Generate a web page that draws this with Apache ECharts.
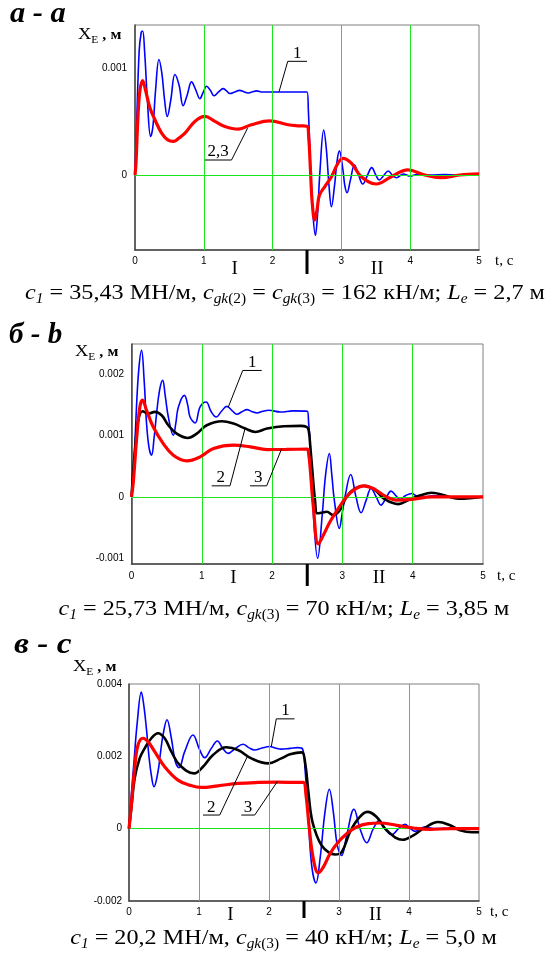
<!DOCTYPE html>
<html><head><meta charset="utf-8">
<script src="https://cdn.jsdelivr.net/npm/echarts@6/dist/echarts.min.js"></script>
<style>html,body{margin:0;padding:0;background:#fff}#c{width:547px;height:955px}</style>
</head><body><div id="c"></div>
<script>
// ---- data (t in s, displacement in 10^-3 m) ----
const tTicks = [0, 1, 2, 3, 4, 5];
const gridX = [1, 2, 3, 4];
const phaseBoundary = 2.5;

const gridA_y = [-0.0005, 0, 0.0005, 0.001];
const gridB_y = [-0.001, 0, 0.001, 0.002];
const gridC_y = [0, 0.002, 0.004];
const yLabA = [0, 0.001];
const yLabB = [-0.001, 0, 0.001, 0.002];
const yLabC = [-0.002, 0, 0.002, 0.004];

// panel a: curve 1 (blue), curves 2,3 (red)
const A1 = [[0,0],[0.02,0.4],[0.06,1.15],[0.09,1.33],[0.111,1.344],[0.14,1.15],[0.18,0.7],[0.227,0.36],[0.26,0.45],[0.3,0.8],[0.348,1.078],[0.39,0.95],[0.43,0.7],[0.469,0.547],[0.52,0.7],[0.58,0.938],[0.64,0.84],[0.70,0.647],[0.76,0.75],[0.822,0.869],[0.88,0.8],[0.943,0.713],[0.99,0.77],[1.04,0.828],[1.095,0.79],[1.15,0.74],[1.215,0.775],[1.28,0.806],[1.33,0.785],[1.38,0.76],[1.45,0.775],[1.52,0.79],[1.58,0.778],[1.64,0.765],[1.7,0.775],[1.77,0.785],[1.85,0.775],[2.0,0.775],[2.2,0.775],[2.4,0.775],[2.5,0.775],[2.52,0.6],[2.55,0.1],[2.585,-0.35],[2.622,-0.563],[2.65,-0.4],[2.69,0.05],[2.743,0.42],[2.78,0.25],[2.82,-0.1],[2.855,-0.297],[2.9,-0.1],[2.935,0.12],[2.97,0.225],[3.02,0.06],[3.05,-0.1],[3.082,-0.166],[3.13,-0.05],[3.19,0.094],[3.25,0],[3.31,-0.084],[3.38,0],[3.44,0.069],[3.5,0],[3.55,-0.047],[3.62,0],[3.68,0.038],[3.75,-0.01],[3.8,-0.025],[3.9,0.01],[4.0,-0.01],[4.1,0.005],[4.3,0],[4.5,0.005],[4.7,0],[5,0]];
const A23 = [[0,0],[0.015,0.12],[0.04,0.5],[0.07,0.78],[0.111,0.881],[0.15,0.8],[0.218,0.625],[0.29,0.516],[0.387,0.39],[0.47,0.33],[0.556,0.313],[0.64,0.345],[0.726,0.39],[0.87,0.5],[1.016,0.547],[1.16,0.5],[1.306,0.453],[1.5,0.428],[1.69,0.469],[1.96,0.506],[2.225,0.469],[2.39,0.459],[2.5,0.455],[2.525,0.35],[2.55,0.05],[2.575,-0.25],[2.612,-0.42],[2.645,-0.33],[2.68,-0.19],[2.757,-0.11],[2.855,-0.016],[2.95,0.11],[3.02,0.156],[3.145,0.11],[3.29,-0.016],[3.507,-0.084],[3.725,-0.016],[3.967,0.047],[4.21,0],[4.45,-0.025],[4.72,0],[5,0.01]];

// panel b: 1 blue, 2 black, 3 red
const B1 = [[0,0],[0.024,0.218],[0.071,1.47],[0.105,2.1],[0.143,2.395],[0.18,1.9],[0.214,1.2],[0.25,0.8],[0.286,0.68],[0.32,0.95],[0.357,1.36],[0.4,1.75],[0.443,1.905],[0.48,1.65],[0.524,1.306],[0.595,1.007],[0.63,1.2],[0.667,1.47],[0.752,1.66],[0.8,1.5],[0.833,1.306],[0.905,1.208],[0.976,1.47],[1.062,1.55],[1.13,1.4],[1.205,1.306],[1.28,1.4],[1.357,1.48],[1.43,1.41],[1.5,1.35],[1.57,1.39],[1.643,1.426],[1.71,1.395],[1.786,1.372],[1.87,1.4],[1.952,1.415],[2.119,1.388],[2.3,1.405],[2.5,1.4],[2.52,1.2],[2.54,0.925],[2.587,-0.27],[2.648,-1.007],[2.715,-0.27],[2.76,0.35],[2.814,0.708],[2.85,0.35],[2.885,-0.054],[2.956,-0.517],[3.0,-0.25],[3.037,0],[3.118,0.365],[3.193,0],[3.265,-0.261],[3.34,-0.05],[3.407,0.136],[3.48,0],[3.55,-0.136],[3.62,-0.02],[3.692,0.093],[3.76,0.02],[3.82,-0.044],[3.9,0.02],[3.986,0.054],[4.08,0],[4.175,0],[4.3,0.02],[4.5,0],[4.7,0],[5,0]];
const B2 = [[0,0],[0.048,0.76],[0.095,1.25],[0.157,1.4],[0.238,1.36],[0.333,1.39],[0.429,1.334],[0.524,1.17],[0.643,1.034],[0.8,0.963],[0.929,1.034],[1.071,1.17],[1.286,1.236],[1.452,1.198],[1.619,1.116],[1.762,1.06],[1.929,1.116],[2.167,1.154],[2.405,1.16],[2.49,1.143],[2.52,1.09],[2.545,0.8],[2.568,0.49],[2.61,-0.054],[2.643,-0.27],[2.705,-0.26],[2.777,-0.245],[2.87,-0.3],[2.966,-0.218],[3.06,0],[3.18,0.136],[3.322,0.18],[3.464,0.109],[3.606,-0.044],[3.796,-0.12],[3.939,-0.054],[4.1,0.02],[4.27,0.065],[4.46,0.02],[4.65,-0.033],[4.85,-0.02],[5,0]];
const B3 = [[0,0],[0.024,0.218],[0.071,0.925],[0.119,1.47],[0.157,1.58],[0.214,1.415],[0.31,1.143],[0.452,0.871],[0.595,0.68],[0.786,0.588],[0.976,0.653],[1.167,0.789],[1.452,0.844],[1.69,0.817],[1.929,0.773],[2.2,0.775],[2.5,0.78],[2.52,0.7],[2.54,0.49],[2.587,-0.163],[2.658,-0.773],[2.73,-0.626],[2.824,-0.408],[2.943,-0.19],[3.06,0],[3.18,0.125],[3.298,0.18],[3.44,0.136],[3.583,0.027],[3.773,-0.054],[3.986,-0.044],[4.27,0],[4.6,0],[5,0]];

// panel c: 1 blue, 2 black, 3 red
const C1 = [[0,0],[0.033,0.926],[0.071,1.85],[0.119,2.96],[0.176,3.78],[0.212,3.4],[0.248,2.78],[0.285,2.0],[0.319,1.48],[0.357,1.157],[0.414,1.574],[0.45,2.1],[0.486,2.59],[0.543,3.01],[0.605,2.5],[0.662,1.85],[0.714,1.685],[0.795,2.13],[0.914,2.59],[1.01,2.176],[1.081,1.963],[1.176,2.22],[1.262,2.426],[1.34,2.22],[1.414,2.083],[1.52,2.22],[1.629,2.333],[1.71,2.24],[1.795,2.176],[1.9,2.23],[2.01,2.27],[2.09,2.23],[2.176,2.2],[2.3,2.22],[2.414,2.24],[2.48,2.2],[2.514,1.667],[2.562,0.278],[2.61,-1.02],[2.671,-1.5],[2.729,-0.833],[2.8,0.463],[2.862,1.09],[2.919,0.463],[2.976,-0.463],[3.038,-0.74],[3.11,-0.185],[3.214,0.537],[3.3,0],[3.395,-0.389],[3.49,0],[3.576,0.23],[3.657,0],[3.752,-0.167],[3.85,0],[3.943,0.12],[4.01,0.02],[4.086,-0.074],[4.16,0],[4.229,0.046],[4.35,0],[4.5,0.01],[4.7,0],[5,0]];
const C2 = [[0,0],[0.033,0.556],[0.081,1.39],[0.152,1.944],[0.224,2.22],[0.319,2.5],[0.414,2.64],[0.51,2.5],[0.605,2.13],[0.724,1.76],[0.929,1.528],[1.057,1.713],[1.2,2.037],[1.39,2.25],[1.557,2.176],[1.748,1.944],[1.986,1.806],[2.176,1.944],[2.3,2.055],[2.467,2.11],[2.514,1.85],[2.562,1.02],[2.61,0.278],[2.681,-0.185],[2.752,-0.463],[2.848,-0.648],[2.943,-0.713],[3.038,-0.648],[3.157,-0.093],[3.276,0.278],[3.405,0.463],[3.538,0.324],[3.681,-0.046],[3.91,-0.306],[4.062,-0.185],[4.205,0],[4.419,0.185],[4.586,0.093],[4.729,-0.046],[4.9,-0.1],[5,-0.1]];
const C3 = [[0,0],[0.033,0.648],[0.081,1.667],[0.129,2.315],[0.2,2.5],[0.271,2.407],[0.367,2.13],[0.51,1.713],[0.7,1.343],[0.867,1.204],[1.033,1.139],[1.271,1.185],[1.557,1.25],[1.843,1.278],[2.129,1.287],[2.414,1.278],[2.49,1.278],[2.529,0.926],[2.576,0],[2.633,-0.833],[2.705,-1.222],[2.776,-1.065],[2.871,-0.694],[2.99,-0.37],[3.11,-0.139],[3.252,0.046],[3.419,0.139],[3.586,0.157],[3.824,0.093],[4.062,0.019],[4.3,-0.019],[4.6,0],[5,0]];

// annotation labels: underline x-range and level, leader tip (t, 10^-3 m)
const annA = [{text:'1', x1:2.22, x2:2.50, y:1.061, from:'left', tip:[2.094,0.778]},
              {text:'2,3', x1:1.016, x2:1.403, y:0.14, from:'right', tip:[1.636,0.437]}];
const annB = [{text:'1', x1:1.582, x2:1.852, y:2.067, from:'left', tip:[1.377,1.468]},
              {text:'2', x1:1.141, x2:1.401, y:0.179, from:'right', tip:[1.615,1.116]},
              {text:'3', x1:1.686, x2:1.923, y:0.179, from:'right', tip:[2.137,0.79]}];
const annC = [{text:'1', x1:2.104, x2:2.364, y:3.036, from:'left', tip:[2.033,2.271]},
              {text:'2', x1:1.057, x2:1.296, y:0.377, from:'right', tip:[1.69,1.994]},
              {text:'3', x1:1.604, x2:1.796, y:0.377, from:'right', tip:[2.119,1.302]}];

const titles = ['а - a', 'б - b', 'в - c'];
const captions = [
 '{i|c}{si|1}{n| = 35,43 МН/м, }{i|c}{si|gk}{s|(2)}{n| = }{i|c}{si|gk}{s|(3)}{n| = 162 кН/м; }{i|L}{si|e}{n| = 2,7 м}',
 '{i|c}{si|1}{n| = 25,73 МН/м, }{i|c}{si|gk}{s|(3)}{n| = 70 кН/м; }{i|L}{si|e}{n| = 3,85 м}',
 '{i|c}{si|1}{n| = 20,2 МН/м, }{i|c}{si|gk}{s|(3)}{n| = 40 кН/м; }{i|L}{si|e}{n| = 5,0 м}'
];

const BLUE = '#0000ff', BLACK = '#000000', RED = '#ff0000';
const serif = '"Liberation Serif", "Times New Roman", serif';
const sans = '"Liberation Sans", Arial, sans-serif';

const panels = [
 {box:{left:135, top:25, width:344, height:225}, ymin:-0.0007, ymax:0.0014, yGrid:gridA_y, yLab:yLabA, xm:6, ym:8,
  curves:[{d:A1,c:BLUE,w:1.6},{d:A23,c:RED,w:3.2}], ann:annA,
  title:{x:10, y:15, sx:1.05}, ylab:{x:78, y:35}, cap:{x:285, y:293}, tc:{dx:16, dy:11}, roman:{dy:19}, tick:24},
 {box:{left:131.5, top:344, width:351.5, height:220}, ymin:-0.0011, ymax:0.0025, yGrid:gridB_y, yLab:yLabB, xm:7, ym:7.5,
  curves:[{d:B1,c:BLUE,w:1.6},{d:B2,c:BLACK,w:2.6},{d:B3,c:RED,w:3.2}], ann:annB,
  title:{x:9, y:336, sx:1.0}, ylab:{x:75, y:352}, cap:{x:284, y:609}, tc:{dx:14, dy:12}, roman:{dy:14}, tick:22},
 {box:{left:129, top:684, width:350, height:217}, ymin:-0.002, ymax:0.004, yGrid:gridC_y, yLab:yLabC, xm:6, ym:7,
  curves:[{d:C1,c:BLUE,w:1.6},{d:C2,c:BLACK,w:2.6},{d:C3,c:RED,w:3.2}], ann:annC,
  title:{x:14, y:646, sx:1.15}, ylab:{x:73, y:667}, cap:{x:283.5, y:938}, tc:{dx:11, dy:11}, roman:{dy:14}, tick:17}
];

const chart = echarts.init(document.getElementById('c'), null, {renderer:'canvas'});
const grids = [], xAxes = [], yAxes = [], series = [];
panels.forEach((p, i) => {
  grids.push(Object.assign({show:true, borderColor:'#808080', borderWidth:1}, p.box));
  xAxes.push({type:'value', gridIndex:i, min:tTicks[0], max:tTicks[tTicks.length-1], interval:1,
    axisLine:{show:true, onZero:false, lineStyle:{color:'#444', width:1.5}},
    axisTick:{show:false}, splitLine:{show:false},
    axisLabel:{show:true, margin:p.xm, fontSize:10, color:'#000', fontFamily:sans}});
  yAxes.push({type:'value', gridIndex:i, min:p.ymin, max:p.ymax,
    axisLine:{show:true, onZero:false, lineStyle:{color:'#444', width:1.5}},
    axisTick:{show:false}, splitLine:{show:false},
    axisLabel:{show:true, margin:p.ym, fontSize:10, color:'#000', fontFamily:sans,
      customValues:p.yLab, formatter: v => String(v)}});
  series.push({type:'line', xAxisIndex:i, yAxisIndex:i, data:[], z:1, silent:true,
    markLine:{silent:true, symbol:['none','none'], label:{show:false}, animation:false,
      emphasis:{disabled:true},
      lineStyle:{color:'#1ee61e', width:1, type:'solid'},
      data: p.yGrid.map(v => ({yAxis:v})).concat(gridX.map(t => ({xAxis:t})))}});
  p.curves.forEach((c, k) => series.push({type:'line', xAxisIndex:i, yAxisIndex:i,
    data:c.d.map(q => [q[0], q[1] * 1e-3]), smooth:0.4, showSymbol:false, symbol:'none',
    z:3 + k, silent:true, lineStyle:{color:c.c, width:c.w}}));
});
chart.setOption({animation:false, grid:grids, xAxis:xAxes, yAxis:yAxes, series:series});

const g = [];
const txt = (x, y, text, st, extra) => g.push(Object.assign({type:'text', x:x, y:y, z:20,
  style:Object.assign({text:text, fill:'#000', textAlign:'left', align:'left', textVerticalAlign:'middle', verticalAlign:'middle'}, st)}, extra || {}));
const ln = (x1, y1, x2, y2, w) => g.push({type:'line', z:20, shape:{x1:x1, y1:y1, x2:x2, y2:y2}, style:{stroke:'#000', lineWidth:w}});

panels.forEach((p, i) => {
  const px = (t, v) => chart.convertToPixel({gridIndex:i}, [t, v]);
  const bot = px(0, p.ymin)[1];
  txt(p.title.x, p.title.y, titles[i], {fontFamily:serif, fontSize:29, fontWeight:'bold', fontStyle:'italic'}, {scaleX:p.title.sx});
  txt(p.ylab.x, p.ylab.y, '{x|X}{e|E}{m| , м}', {rich:{
    x:{fontFamily:serif, fontSize:16, lineHeight:20, verticalAlign:'middle'},
    e:{fontFamily:serif, fontSize:10, lineHeight:13, verticalAlign:'bottom'},
    m:{fontFamily:serif, fontSize:14, fontWeight:'bold', lineHeight:20, verticalAlign:'middle'}}}, {scaleX:1.15});
  const xr = px(5, p.ymin)[0];
  txt(xr + p.tc.dx, bot + p.tc.dy, 't, с', {fontFamily:serif, fontSize:15});
  const xb = px(phaseBoundary, p.ymin)[0];
  ln(xb, bot, xb, bot + p.tick, 3);
  txt(px(1.45, 0)[0], bot + p.roman.dy, 'I', {fontFamily:serif, fontSize:19, textAlign:'center', align:'center'});
  txt(px(3.52, 0)[0], bot + p.roman.dy, 'II', {fontFamily:serif, fontSize:19, textAlign:'center', align:'center'});
  p.ann.forEach(a => {
    const A = px(a.x1, a.y * 1e-3), B = px(a.x2, a.y * 1e-3), T = px(a.tip[0], a.tip[1] * 1e-3);
    ln(A[0], A[1], B[0], B[1], 1);
    const S = a.from === 'left' ? A : B;
    ln(S[0], S[1], T[0], T[1], 1);
    txt((A[0] + B[0]) / 2, A[1] - 8, a.text, {fontFamily:serif, fontSize:17, textAlign:'center', align:'center'});
  });
  txt(p.cap.x, p.cap.y, captions[i], {textAlign:'center', align:'center', rich:{
    n:{fontFamily:serif, fontSize:22, lineHeight:26, verticalAlign:'middle'},
    i:{fontFamily:serif, fontSize:22, fontStyle:'italic', lineHeight:26, verticalAlign:'middle'},
    si:{fontFamily:serif, fontSize:14, fontStyle:'italic', lineHeight:18, verticalAlign:'bottom'},
    s:{fontFamily:serif, fontSize:14, lineHeight:18, verticalAlign:'bottom'}}}, {scaleX:1.1});
});
chart.setOption({graphic:{elements:g}});
</script>
</body></html>
